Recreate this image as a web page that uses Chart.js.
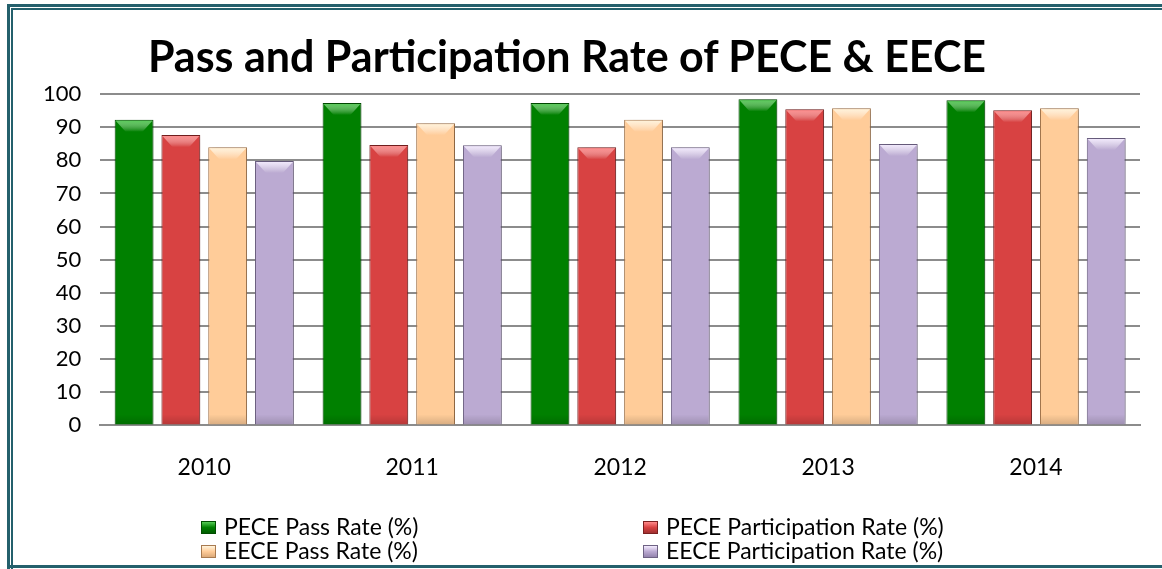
<!DOCTYPE html>
<html><head><meta charset="utf-8">
<script src="https://cdn.jsdelivr.net/npm/chart.js@4"></script>
<style>
html,body{margin:0;padding:0;background:#fff;}
#wrap{position:relative;width:1162px;height:569px;overflow:hidden;}
#c{position:absolute;left:0;top:0;}
.ln{position:absolute;background:#24606c;}
#title{position:absolute;left:0;width:1134px;top:31px;text-align:center;font-family:Lato,sans-serif;font-weight:bold;font-size:43px;line-height:50px;color:#000;white-space:nowrap;}
#legend{position:absolute;left:0;top:0;font-family:Lato,"Open Sans",sans-serif;font-size:23px;color:#000;line-height:24px;}
.li{position:absolute;white-space:nowrap;}
.li span.box{display:inline-block;width:15px;height:13px;margin-right:8px;vertical-align:1px;box-sizing:border-box;}
</style></head>
<body><div id="wrap"><canvas id="c" width="1162" height="569"></canvas>
<div class="ln" style="left:7px;top:4px;width:1155px;height:3px"></div>
<div class="ln" style="left:11px;top:8px;width:1151px;height:1.5px"></div>
<div class="ln" style="left:7px;top:4px;width:3px;height:565px"></div>
<div class="ln" style="left:11px;top:8px;width:1.5px;height:561px"></div>
<div class="ln" style="left:7px;top:565px;width:1155px;height:3px"></div>
<div id="title"></div>
<div id="legend"></div>
</div>
<script>
const titleText = "Pass and Participation Rate of PECE & EECE";
const categories = ["2010","2011","2012","2013","2014"];
const seriesNames = ["PECE Pass Rate (%)","PECE Participation Rate (%)","EECE Pass Rate (%)","EECE Participation Rate (%)"];
const pecePass = [92.2, 97.3, 97.3, 98.4, 98.1];
const peceParticipation = [87.6, 84.6, 83.9, 95.4, 95.1];
const eecePass = [83.9, 91.2, 92.2, 95.7, 95.7];
const eeceParticipation = [79.8, 84.5, 83.9, 84.9, 86.7];
const yTicks = [0,10,20,30,40,50,60,70,80,90,100];

document.getElementById('title').textContent = titleText;

const palette = [
  {light:"#139013", mid:"#008000", dark:"#005c00", border:"#004d00", top:"#55cc55"},
  {light:"#e04a4a", mid:"#d84242", dark:"#a03030", border:"#7a2020", top:"#ff8a8a"},
  {light:"#ffd4a6", mid:"#ffcc99", dark:"#dcaa7a", border:"#a87a50", top:"#fff4dc"},
  {light:"#c4b4da", mid:"#bbaad2", dark:"#9484ae", border:"#6e6284", top:"#f4ecff"}
];

function grad(ctx, i){
  const c = ctx.chart;
  const el = ctx.element;
  if(!c.chartArea || !el || el.x===undefined) return palette[i].mid;
  const w = el.width || 39;
  const g = c.ctx.createLinearGradient(el.x - w/2, 0, el.x + w/2, 0);
  const p = palette[i];
  g.addColorStop(0, p.dark);
  g.addColorStop(0.1, p.mid);
  g.addColorStop(0.5, p.light);
  g.addColorStop(0.9, p.mid);
  g.addColorStop(1, p.dark);
  return g;
}

const bevel = {
  id:'bevel',
  afterDatasetsDraw(chart){
    const ctx = chart.ctx;
    chart.data.datasets.forEach((ds,i)=>{
      const meta = chart.getDatasetMeta(i);
      const p = palette[i];
      meta.data.forEach(b=>{
        const l = b.x - b.width/2, r = b.x + b.width/2, t = b.y, bt = b.base;
        ctx.save();
        const g = ctx.createLinearGradient(0,t,0,t+12);
        g.addColorStop(0,p.top);
        g.addColorStop(1,'rgba(255,255,255,0)');
        ctx.fillStyle = g;
        ctx.beginPath();
        ctx.moveTo(l+1,t+1);ctx.lineTo(r-1,t+1);ctx.lineTo(r-11,t+12);ctx.lineTo(l+11,t+12);ctx.closePath();
        ctx.fill();
        const g2 = ctx.createLinearGradient(0,bt-10,0,bt);
        g2.addColorStop(0,'rgba(0,0,0,0)');
        g2.addColorStop(1,'rgba(0,0,0,0.15)');
        ctx.fillStyle = g2;
        ctx.fillRect(l+1,bt-10,r-l-2,10);
        ctx.restore();
      });
    });
  }
};

const shadow = {
  id:'shadow',
  beforeDatasetsDraw(chart){ chart.ctx.save(); chart.ctx.shadowColor='rgba(0,0,0,0.22)'; chart.ctx.shadowBlur=7; chart.ctx.shadowOffsetX=3; chart.ctx.shadowOffsetY=0; },
  afterDatasetsDraw(chart){ chart.ctx.restore(); }
};

const values = [pecePass, peceParticipation, eecePass, eeceParticipation];
const datasets = values.map((v,i)=>({
  label: seriesNames[i],
  data: v,
  backgroundColor: ctx => grad(ctx,i),
  borderColor: palette[i].border,
  borderWidth: 1,
  categoryPercentage: 0.9,
  barPercentage: 0.83
}));

new Chart(document.getElementById('c'), {
  type:'bar',
  data:{labels:categories, datasets},
  plugins:[shadow, bevel],
  options:{
    responsive:false,
    animation:false,
    layout:{padding:{left:24, right:22, top:94, bottom:60}},
    plugins:{
      legend:{display:false},
      tooltip:{enabled:false},
      title:{display:false}
    },
    scales:{
      x:{grid:{display:false, drawTicks:false}, border:{display:true, color:'#8c8c8c', width:2},
        ticks:{font:{family:"Lato", size:23}, color:'#000', padding:28}},
      y:{min:0,max:100, afterBuildTicks: ax => { ax.ticks = yTicks.map(v=>({value:v})); },
        grid:{color:'#8c8c8c', lineWidth:2, drawTicks:false}, border:{display:false},
        ticks:{font:{family:"Lato", size:22}, color:'#000', padding:19}}
    }
  }
});

const leg = document.getElementById('legend');
const pos = [[201,514],[643,514],[201,538],[643,538]];
[0,1,2,3].forEach((i,k)=>{
  const d = document.createElement('div');
  d.className='li';
  d.style.left = pos[k][0]+'px'; d.style.top = pos[k][1]+'px';
  const p = palette[i];
  d.innerHTML = '<span class="box" style="background:linear-gradient('+p.top+','+p.mid+' 50%,'+p.dark+');border:1px solid '+p.border+'"></span>'+seriesNames[i];
  leg.appendChild(d);
});
</script></body></html>
